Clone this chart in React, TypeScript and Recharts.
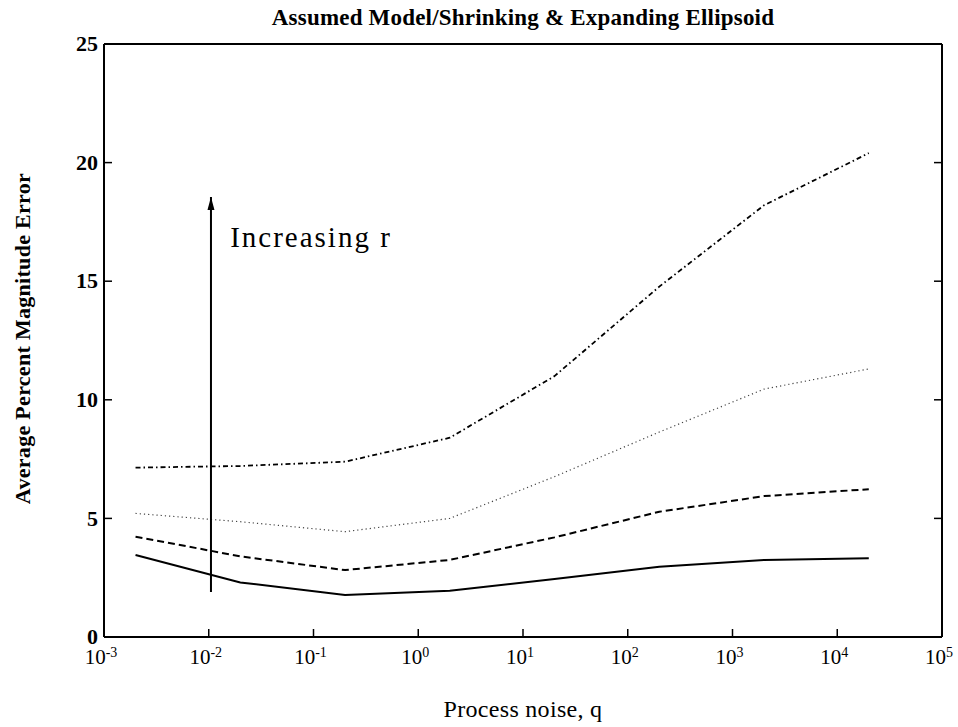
import React from "react";
import {
  LineChart,
  Line,
  XAxis,
  YAxis,
  ReferenceLine,
  ReferenceDot,
} from "recharts";

// Process noise q (x) values
const qValues = [0.002, 0.02, 0.2, 2, 20, 200, 2000, 20000];
// Average percent magnitude error for increasing r
const seriesSolid = [3.46, 2.3, 1.77, 1.95, 2.45, 2.96, 3.25, 3.32];
const seriesDashed = [4.23, 3.4, 2.82, 3.25, 4.2, 5.28, 5.94, 6.23];
const seriesDotted = [5.21, 4.86, 4.44, 5.0, 6.76, 8.64, 10.45, 11.3];
const seriesDashDot = [7.14, 7.21, 7.39, 8.4, 11.0, 14.77, 18.2, 20.4];

const xTicks = [1e-3, 1e-2, 1e-1, 1e0, 1e1, 1e2, 1e3, 1e4, 1e5];
const yTicks = [0, 5, 10, 15, 20, 25];

const arrowX = 0.0105;
const arrowYStart = 1.9;
const arrowYEnd = 18.55;
const annotX = 0.016;
const annotY = 16.44;

const titleText = "Assumed Model/Shrinking & Expanding Ellipsoid";
const xLabelText = "Process noise, q";
const yLabelText = "Average Percent Magnitude Error";
const annotText = "Increasing r";

const data = qValues.map((q, i) => ({
  q,
  s1: seriesSolid[i],
  s2: seriesDashed[i],
  s3: seriesDotted[i],
  s4: seriesDashDot[i],
}));

const FONT = "'Liberation Serif', 'Times New Roman', serif";
const TICK_LEN = 8;

const BottomTick = (props: any) => {
  const { x, y, payload } = props;
  const exp = Math.round(Math.log10(payload.value));
  return (
    <g>
      <line x1={x} y1={y} x2={x} y2={y - TICK_LEN} stroke="#000" strokeWidth={1.5} />
      <text x={x - 3} y={y + 27} textAnchor="middle" fontFamily={FONT} fontSize={21} fill="#000">
        10
        <tspan dy={-7} fontSize={14}>
          {String(exp)}
        </tspan>
      </text>
    </g>
  );
};

const TopTick = (props: any) => {
  const { x, y } = props;
  return <line x1={x} y1={y} x2={x} y2={y + TICK_LEN} stroke="#000" strokeWidth={1.5} />;
};

const LeftTick = (props: any) => {
  const { x, y, payload } = props;
  return (
    <g>
      <line x1={x} y1={y} x2={x + TICK_LEN} y2={y} stroke="#000" strokeWidth={1.5} />
      <text
        x={x - 6}
        y={y}
        dy="0.33em"
        textAnchor="end"
        fontFamily={FONT}
        fontWeight="bold"
        fontSize={22}
        fill="#000"
      >
        {payload.value}
      </text>
    </g>
  );
};

const RightTick = (props: any) => {
  const { x, y } = props;
  return <line x1={x} y1={y} x2={x - TICK_LEN} y2={y} stroke="#000" strokeWidth={1.5} />;
};

const ArrowHead = (props: any) => {
  const { cx, cy } = props;
  if (cx == null || cy == null) return null;
  return <path d={`M${cx},${cy} L${cx - 3.5},${cy + 13} L${cx + 3.5},${cy + 13} Z`} fill="#000" />;
};

const AnnotText = (props: any) => {
  const { cx, cy } = props;
  if (cx == null || cy == null) return null;
  return (
    <text x={cx} y={cy} fontFamily={FONT} fontSize={29} letterSpacing={2} fill="#000">
      {annotText}
    </text>
  );
};

export default function App() {
  return (
    <div style={{ position: "absolute", left: 0, top: 0, width: 958, height: 727, background: "#fff" }}>
      <LineChart
        width={958}
        height={727}
        data={data}
        margin={{ top: 43, right: 15, bottom: 0, left: 4 }}
      >
        <XAxis
          dataKey="q"
          type="number"
          scale="log"
          domain={[1e-3, 1e5]}
          allowDataOverflow
          ticks={xTicks}
          interval={0}
          height={90}
          tickSize={0}
          tickMargin={0}
          tickLine={false}
          axisLine={{ stroke: "#000", strokeWidth: 2 }}
          tick={<BottomTick />}
          label={{
            content: (p: any) => {
              const vb = p.viewBox || {};
              return (
                <text
                  x={vb.x + vb.width / 2}
                  y={vb.y + 80}
                  textAnchor="middle"
                  fontFamily={FONT}
                  fontSize={24}
                  letterSpacing={0.3}
                  fill="#000"
                >
                  {xLabelText}
                </text>
              );
            },
          }}
        />
        <XAxis
          xAxisId="top"
          orientation="top"
          type="number"
          scale="log"
          domain={[1e-3, 1e5]}
          allowDataOverflow
          ticks={xTicks}
          interval={0}
          height={1}
          tickSize={0}
          tickMargin={0}
          tickLine={false}
          axisLine={{ stroke: "#000", strokeWidth: 2 }}
          tick={<TopTick />}
          label={{
            content: (p: any) => {
              const vb = p.viewBox || {};
              return (
                <text
                  x={vb.x + vb.width / 2}
                  y={25}
                  textAnchor="middle"
                  fontFamily={FONT}
                  fontWeight="bold"
                  fontSize={23}
                  letterSpacing={0.2}
                  fill="#000"
                >
                  {titleText}
                </text>
              );
            },
          }}
        />
        <YAxis
          type="number"
          domain={[0, 25]}
          allowDataOverflow
          ticks={yTicks}
          interval={0}
          width={100}
          tickSize={0}
          tickMargin={0}
          tickLine={false}
          axisLine={{ stroke: "#000", strokeWidth: 2 }}
          tick={<LeftTick />}
          label={{
            content: (p: any) => {
              const vb = p.viewBox || {};
              const cx = vb.x + 18;
              const cy = vb.y + vb.height / 2 - 2;
              return (
                <text
                  x={cx}
                  y={cy}
                  transform={`rotate(-90, ${cx}, ${cy})`}
                  textAnchor="middle"
                  dy="0.35em"
                  fontFamily={FONT}
                  fontWeight="bold"
                  fontSize={22}
                  letterSpacing={0.3}
                  fill="#000"
                >
                  {yLabelText}
                </text>
              );
            },
          }}
        />
        <YAxis
          yAxisId="right"
          orientation="right"
          type="number"
          domain={[0, 25]}
          allowDataOverflow
          ticks={yTicks}
          interval={0}
          width={1}
          tickSize={0}
          tickMargin={0}
          tickLine={false}
          axisLine={{ stroke: "#000", strokeWidth: 2 }}
          tick={<RightTick />}
        />
        <Line
          dataKey="s1"
          type="linear"
          stroke="#000"
          strokeWidth={2}
          dot={false}
          isAnimationActive={false}
        />
        <Line
          dataKey="s2"
          type="linear"
          stroke="#000"
          strokeWidth={2}
          strokeDasharray="7 4"
          dot={false}
          isAnimationActive={false}
        />
        <Line
          dataKey="s3"
          type="linear"
          stroke="#444"
          strokeWidth={1.2}
          strokeDasharray="1.2 3"
          dot={false}
          isAnimationActive={false}
        />
        <Line
          dataKey="s4"
          type="linear"
          stroke="#000"
          strokeWidth={1.8}
          strokeDasharray="5 3 1.5 3"
          dot={false}
          isAnimationActive={false}
        />
        <ReferenceLine
          segment={[
            { x: arrowX, y: arrowYStart },
            { x: arrowX, y: arrowYEnd },
          ]}
          stroke="#000"
          strokeWidth={2}
        />
        <ReferenceDot x={arrowX} y={arrowYEnd} r={0} shape={<ArrowHead />} />
        <ReferenceDot x={annotX} y={annotY} r={0} shape={<AnnotText />} />
      </LineChart>
    </div>
  );
}
